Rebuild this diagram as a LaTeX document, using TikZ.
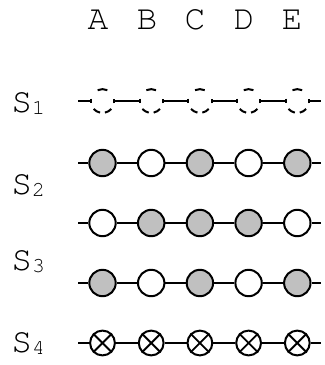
\documentclass[tikz,border=0pt]{standalone}
\usepackage{fontspec}
\setmonofont{TeX Gyre Cursor}
\definecolor{fillgray}{RGB}{192,192,192}
\newcommand{\spinlabel}[1]{S\raisebox{-1.5pt}{\fontsize{16}{16}\selectfont #1}}
\begin{document}
\begin{tikzpicture}[x=0.75pt,y=-0.75pt,
  lbl/.style={font=\ttfamily\fontsize{26}{26}\selectfont, inner sep=0pt},
  site/.style={circle, minimum size=19.8pt, inner sep=0pt, draw, line width=1.5pt},
  up/.style={site, fill=fillgray},
  dn/.style={site, fill=white},
  ghost/.style={circle, minimum size=17.8pt, inner sep=0pt},
  crossed/.style={site, minimum size=18.6pt, fill=white},
  bond/.style={line width=1.1pt},
  dashring/.style={line width=1.5pt}]
\useasboundingbox (0,0) rectangle (325,365);

% column headers
\foreach \n/\t/\x in {ha/A/98, hb/B/147, hc/C/195, hd/D/244, he/E/292}
  \node[lbl] (\n) at (\x,20) {\t};

% row labels
\node[lbl, anchor=base west] (l1) at (11,112) {\spinlabel{1}};
\node[lbl, anchor=base west] (l2) at (11,194) {\spinlabel{2}};
\node[lbl, anchor=base west] (l3) at (11,270) {\spinlabel{3}};
\node[lbl, anchor=base west] (l4) at (11,352) {\spinlabel{4}};

% row 1: empty (dashed) sites
\foreach \c/\x in {a/102.5, b/151.2, c/199.9, d/248.6, e/297.3}
  \node[ghost] (r1\c) at (\x,101) {};
% row 2
\foreach \c/\x/\s in {a/102.5/up, b/151.2/dn, c/199.9/up, d/248.6/dn, e/297.3/up}
  \node[\s] (r2\c) at (\x,163) {};
% row 3
\foreach \c/\x/\s in {a/102.5/dn, b/151.2/up, c/199.9/up, d/248.6/up, e/297.3/dn}
  \node[\s] (r3\c) at (\x,223) {};
% row 4
\foreach \c/\x/\s in {a/102.5/up, b/151.2/dn, c/199.9/up, d/248.6/dn, e/297.3/up}
  \node[\s] (r4\c) at (\x,283) {};
% row 5: crossed sites
\foreach \c/\x in {a/102.5, b/151.2, c/199.9, d/248.6, e/297.3}
  \node[crossed] (r5\c) at (\x,343) {};

% chain ends
\foreach \r/\y in {1/101, 2/163, 3/223, 4/283, 5/343} {
  \coordinate (r\r s) at (78,\y);
  \coordinate (r\r t) at (321,\y);
}

% bonds along each chain
\foreach \r in {1,...,5}
  \draw[bond] (r\r s) -- (r\r a) -- (r\r b) -- (r\r c) -- (r\r d) -- (r\r e) -- (r\r t);

% dashed outlines of the empty sites
\foreach \c in {a,b,c,d,e} {
  \foreach \a/\b in {-12/12, 66/114, 168/192, 222/258, 282/318}
    \draw[dashring] (r1\c.center) ++(\a:8.9pt) arc[start angle=\a, end angle=\b, radius=8.9pt];
}

% crosses inside the crossed sites
\foreach \c in {a,b,c,d,e} {
  \draw[line width=1.4pt] (r5\c.45) -- (r5\c.225);
  \draw[line width=1.4pt] (r5\c.135) -- (r5\c.-45);
}
\end{tikzpicture}
\end{document}
